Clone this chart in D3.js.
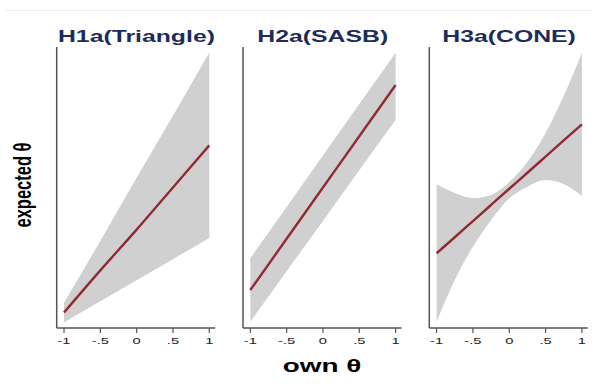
<!DOCTYPE html>
<html>
<head>
<meta charset="utf-8">
<script src="https://cdn.jsdelivr.net/npm/d3@7"></script>
<style>
  body { margin: 0; background: #fff; }
  svg { display: block; font-family: "Liberation Sans", Arial, sans-serif; }
</style>
</head>
<body>
<svg id="chart" width="602" height="384"></svg>
<script>
// panel titles and x ticks
const titles = ["H1a(Triangle)", "H2a(SASB)", "H3a(CONE)"];
const xTicks = [-1, -0.5, 0, 0.5, 1];
const xTickLabels = ["-1", "-.5", "0", ".5", "1"];

// x grid the values were read at
const xCoarse = [-1, -0.5, 0, 0.5, 1];
const xFine = [-1, -0.75, -0.5, -0.25, 0, 0.25, 0.5, 0.75, 1];

// H1a
const h1Fit = [-0.89, -0.59, -0.30, 0.00, 0.30];
const h1Lo  = [-0.96, -0.81, -0.66, -0.51, -0.36];
const h1Hi  = [-0.82, -0.38, 0.07, 0.51, 0.96];
// H2a
const h2Fit = [-0.73, -0.365, 0.0, 0.365, 0.73];
const h2Lo  = [-0.955, -0.596, -0.238, 0.122, 0.48];
const h2Hi  = [-0.504, -0.138, 0.228, 0.594, 0.959];
// H3a
const h3Fit = [-0.468, -0.354, -0.239, -0.124, -0.009, 0.105, 0.220, 0.335, 0.450];
const h3Lo  = [-0.955, -0.658, -0.421, -0.231, -0.077, 0.006, 0.053, 0.025, -0.060];
const h3Hi  = [0.023, -0.039, -0.075, -0.053, 0.039, 0.181, 0.388, 0.651, 0.957];

const panels = [
    { x: xCoarse, fit: h1Fit, lo: h1Lo, hi: h1Hi },
    { x: xCoarse, fit: h2Fit, lo: h2Lo, hi: h2Hi },
    { x: xFine,   fit: h3Fit, lo: h3Lo, hi: h3Hi }
];

const stretch = 1.5; // the picture is wider than it is tall
const left0 = 56.7, step = 186.3, panelW = 158.5;
const plotTop = 47, plotBottom = 328;

const svg = d3.select("#chart");

// faint rule at top
svg.append("line")
    .attr("x1", 5).attr("x2", 592)
    .attr("y1", 10.5).attr("y2", 10.5)
    .attr("stroke", "#ededed").attr("stroke-width", 1);

const yScale = d3.scaleLinear().domain([-1, 1]).range([plotBottom, plotTop]);

panels.forEach((p, i) => {
    const g = svg.append("g").attr("transform", `translate(${left0 + i * step},0)`);
    const xScale = d3.scaleLinear().domain([-1, 1]).range([7.3, 152.6]);

    const rows = p.x.map((x, k) => ({ x: x, fit: p.fit[k], lo: p.lo[k], hi: p.hi[k] }));

    const band = d3.area()
        .x(d => xScale(d.x))
        .y0(d => yScale(d.lo))
        .y1(d => yScale(d.hi))
        .curve(d3.curveMonotoneX);

    g.append("path")
        .datum(rows)
        .attr("d", band)
        .attr("fill", "#d0d0d0");

    const line = d3.line()
        .x(d => xScale(d.x))
        .y(d => yScale(d.fit))
        .curve(d3.curveMonotoneX);

    g.append("path")
        .datum(rows)
        .attr("d", line)
        .attr("fill", "none")
        .attr("stroke", "#922a35")
        .attr("stroke-width", 2.4);

    // y axis line (no ticks)
    g.append("line")
        .attr("x1", 0).attr("x2", 0)
        .attr("y1", plotTop).attr("y2", plotBottom)
        .attr("stroke", "#555").attr("stroke-width", 1.5);

    // x axis
    g.append("line")
        .attr("x1", 0).attr("x2", panelW)
        .attr("y1", plotBottom).attr("y2", plotBottom)
        .attr("stroke", "#555").attr("stroke-width", 1.5);

    g.selectAll(".tick")
        .data(xTicks)
        .enter()
        .append("line")
        .attr("x1", d => xScale(d)).attr("x2", d => xScale(d))
        .attr("y1", plotBottom).attr("y2", plotBottom + 5)
        .attr("stroke", "#555").attr("stroke-width", 1.2);

    g.selectAll(".ticklabel")
        .data(xTicks)
        .enter()
        .append("text")
        .attr("transform", d => `translate(${xScale(d)},344) scale(${stretch},1)`)
        .attr("text-anchor", "middle")
        .attr("font-size", 9.8)
        .attr("fill", "#222")
        .text((d, k) => xTickLabels[k]);

    g.append("text")
        .attr("transform", `translate(${panelW / 2 + 0.5},42.3) scale(1.52,1)`)
        .attr("text-anchor", "middle")
        .attr("font-size", 16.3)
        .attr("font-weight", "bold")
        .attr("fill", "#1e2c5b")
        .text(titles[i]);
});

// axis titles
svg.append("text")
    .attr("transform", `translate(322,371.7) scale(1.55,1)`)
    .attr("text-anchor", "middle")
    .attr("font-size", 18)
    .attr("font-weight", "bold")
    .attr("fill", "#000")
    .text("own θ");

svg.append("text")
    .attr("transform", `translate(31,185) scale(${stretch},1) rotate(-90)`)
    .attr("text-anchor", "middle")
    .attr("font-size", 16.5)
    .attr("font-weight", "bold")
    .attr("fill", "#000")
    .text("expected θ");
</script>
</body>
</html>
